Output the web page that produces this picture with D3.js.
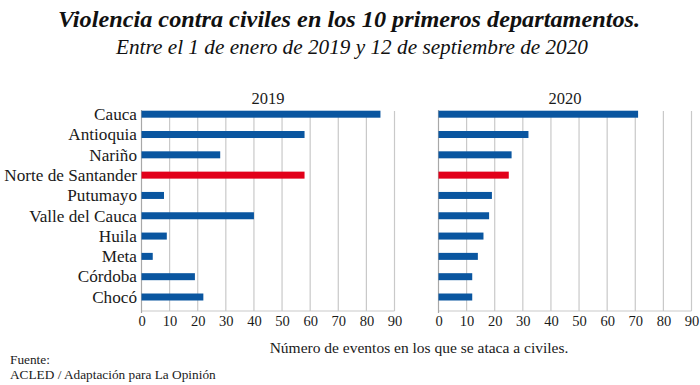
<!DOCTYPE html>
<html>
<head>
<meta charset="utf-8">
<script src="https://cdn.jsdelivr.net/npm/d3@7.9.0/dist/d3.min.js"></script>
<style>
  body { margin: 0; background: #fff; }
  svg { display: block; }
  svg text { font-family: "Liberation Serif", "DejaVu Serif", serif; }
</style>
</head>
<body>
<svg id="chart" width="700" height="385"></svg>
<script>
// ===== Data =====
const departments = ['Cauca', 'Antioquia', 'Nariño', 'Norte de Santander', 'Putumayo',
  'Valle del Cauca', 'Huila', 'Meta', 'Córdoba', 'Chocó'];
const values2019 = [85, 58, 28, 58, 8, 40, 9, 4, 19, 22];
const values2020 = [71, 32, 26, 25, 19, 18, 16, 14, 12, 12];
const highlighted = 'Norte de Santander';
const tickValues = [0, 10, 20, 30, 40, 50, 60, 70, 80, 90];

const blue = '#0a56a0';
const red = '#e2001a';
const gridColor = '#c9c9c9';
const textColor = '#1a1a1a';

const svg = d3.select('#chart');

// ===== Titles =====
svg.append('text')
  .attr('x', 349).attr('y', 27)
  .attr('text-anchor', 'middle')
  .attr('font-size', 23)
  .attr('font-weight', 'bold')
  .attr('font-style', 'italic')
  .attr('textLength', 582)
  .attr('lengthAdjust', 'spacingAndGlyphs')
  .attr('fill', '#111')
  .text('Violencia contra civiles en los 10 primeros departamentos.');

svg.append('text')
  .attr('x', 352).attr('y', 54)
  .attr('text-anchor', 'middle')
  .attr('font-size', 21)
  .attr('font-style', 'italic')
  .attr('textLength', 472)
  .attr('lengthAdjust', 'spacingAndGlyphs')
  .attr('fill', '#111')
  .text('Entre el 1 de enero de 2019 y 12 de septiembre de 2020');

// ===== Scales =====
const y = d3.scalePoint().domain(departments).range([114.2, 297]);
const barH = 7;
const gridTop = 111, gridBottom = 311;

const panels = [
  { year: '2019', values: values2019, x: d3.scaleLinear().domain([0, 90]).range([141.5, 394.5]) },
  { year: '2020', values: values2020, x: d3.scaleLinear().domain([0, 90]).range([438.5, 691.5]) }
];

panels.forEach(p => {
  const g = svg.append('g');

  // gridlines
  g.selectAll('line.grid')
    .data(tickValues.filter(t => t > 0))
    .join('line')
    .attr('class', 'grid')
    .attr('x1', d => p.x(d)).attr('x2', d => p.x(d))
    .attr('y1', gridTop).attr('y2', gridBottom)
    .attr('stroke', gridColor).attr('stroke-width', 1.2);

  // bottom line
  g.append('line')
    .attr('x1', p.x(0)).attr('x2', p.x(90))
    .attr('y1', gridBottom).attr('y2', gridBottom)
    .attr('stroke', gridColor).attr('stroke-width', 1);

  // zero axis
  g.append('line')
    .attr('x1', p.x(0)).attr('x2', p.x(0))
    .attr('y1', gridTop - 1).attr('y2', gridBottom + 2)
    .attr('stroke', '#a8a8a8').attr('stroke-width', 1.2);

  // bars
  g.selectAll('rect')
    .data(departments.map((d, i) => ({ name: d, value: p.values[i] })))
    .join('rect')
    .attr('x', p.x(0))
    .attr('y', d => y(d.name) - barH / 2)
    .attr('width', d => p.x(d.value) - p.x(0))
    .attr('height', barH)
    .attr('fill', d => d.name === highlighted ? red : blue);

  // tick labels via axis
  const axis = d3.axisBottom(p.x).tickValues(tickValues).tickSize(0).tickPadding(0);
  const ag = g.append('g')
    .attr('transform', `translate(0, ${gridBottom + 5})`)
    .call(axis)
    .attr('font-family', null)
    .attr('font-size', null);
  ag.select('.domain').remove();
  ag.selectAll('text')
    .attr('font-size', 14.5)
    .attr('fill', textColor)
    .attr('dy', '0.71em');

  // panel title
  svg.append('text')
    .attr('x', (p.x(0) + p.x(90)) / 2).attr('y', 104)
    .attr('text-anchor', 'middle')
    .attr('font-size', 16.5)
    .attr('fill', textColor)
    .text(p.year);
});

// ===== Category labels =====
svg.append('g')
  .selectAll('text')
  .data(departments)
  .join('text')
  .attr('x', 137)
  .attr('y', d => y(d) + 5.8)
  .attr('text-anchor', 'end')
  .attr('font-size', 17.2)
  .attr('fill', textColor)
  .text(d => d);

// ===== Axis title and source =====
svg.append('text')
  .attr('x', 419).attr('y', 353)
  .attr('text-anchor', 'middle')
  .attr('font-size', 15.5)
  .attr('fill', textColor)
  .text('Número de eventos en los que se ataca a civiles.');

svg.append('text')
  .attr('x', 10).attr('y', 364)
  .attr('font-size', 13.3)
  .attr('fill', textColor)
  .text('Fuente:');

svg.append('text')
  .attr('x', 10).attr('y', 379)
  .attr('font-size', 13.3)
  .attr('fill', textColor)
  .text('ACLED / Adaptación para La Opinión');
</script>
</body>
</html>
